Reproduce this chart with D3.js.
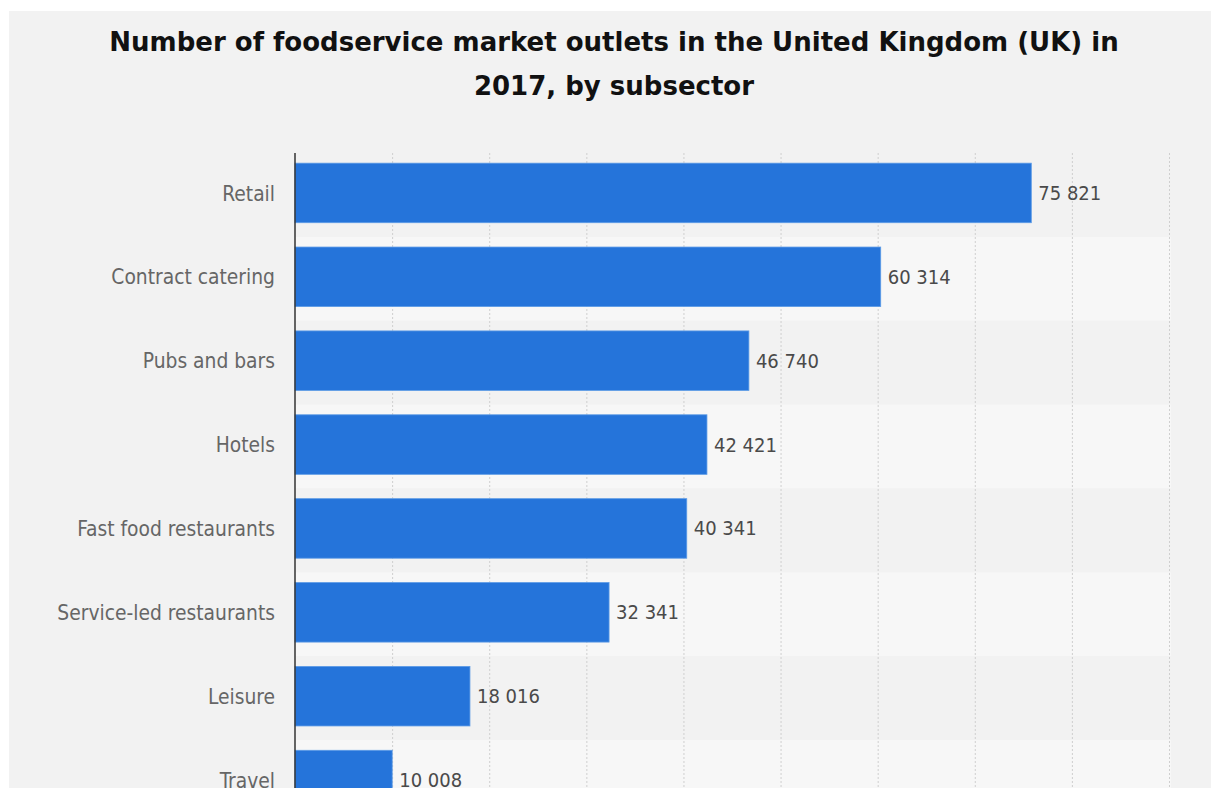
<!DOCTYPE html>
<html>
<head>
<meta charset="utf-8">
<script src="https://cdn.jsdelivr.net/npm/d3@7"></script>
<style>
  html, body { margin: 0; padding: 0; background: #ffffff; }
  svg { display: block; }
</style>
</head>
<body>
<svg id="chart" width="1211" height="788"></svg>
<script>
// Outlets per foodservice subsector, UK 2017
const categories = [
  "Retail", "Contract catering", "Pubs and bars", "Hotels",
  "Fast food restaurants", "Service-led restaurants", "Leisure", "Travel"
];
const outlets = [75821, 60314, 46740, 42421, 40341, 32341, 18016, 10008];
const xTicks = [0, 10000, 20000, 30000, 40000, 50000, 60000, 70000, 80000, 90000];
const titleLines = [
  "Number of foodservice market outlets in the United Kingdom (UK) in",
  "2017, by subsector"
];

const rows = categories.map((c, i) => ({ name: c, value: outlets[i] }));

const W = 1211, H = 788;
const svg = d3.select("#chart");
const condensed = "'DejaVu Sans Condensed', 'DejaVu Sans', sans-serif";

// panel
svg.append("rect").attr("x", 9).attr("y", 11).attr("width", W - 9).attr("height", H - 11)
  .attr("fill", "#f2f2f2");

// title
const title = svg.append("text")
  .attr("x", 614).attr("y", 51)
  .attr("text-anchor", "middle")
  .style("font-family", "'DejaVu Sans', sans-serif")
  .style("font-weight", "bold")
  .style("font-size", "26px")
  .attr("fill", "#111");
titleLines.forEach((t, i) => {
  title.append("tspan").attr("x", 614).attr("dy", i === 0 ? 0 : 44).text(t);
});

const plot = { left: 295, right: 1169, top: 153, bottom: 824 };

const x = d3.scaleLinear().domain([0, 90000]).range([plot.left, plot.right]);
const y = d3.scaleBand().domain(categories)
  .range([plot.top, plot.bottom])
  .paddingInner(0.29).paddingOuter(0.145);

const step = y.step();
const g = svg.append("g");

// alternating row bands
g.selectAll("rect.band").data(rows).join("rect")
  .attr("class", "band")
  .attr("x", plot.left)
  .attr("y", (d, i) => plot.top + i * step)
  .attr("width", plot.right + 2 - plot.left)
  .attr("height", step)
  .attr("fill", (d, i) => i % 2 ? "#f7f7f7" : "#f2f2f2");

// vertical gridlines
g.append("g")
  .attr("transform", `translate(0,${plot.top})`)
  .call(d3.axisTop(x).tickValues(xTicks.slice(1)).tickSize(-(plot.bottom - plot.top)).tickFormat(""))
  .call(a => a.select(".domain").remove())
  .call(a => a.selectAll(".tick line")
    .attr("stroke", "#cfcfcf").attr("stroke-width", 1).attr("stroke-dasharray", "2,2"));

// bars
g.selectAll("rect.bar").data(rows).join("rect")
  .attr("class", "bar")
  .attr("x", x(0))
  .attr("y", d => y(d.name) - 2)
  .attr("width", d => x(d.value) - x(0))
  .attr("height", y.bandwidth())
  .attr("fill", "#2574da")
  .attr("stroke", "#5d9be6")
  .attr("stroke-width", 0.8);

// value labels
const fmt = v => d3.format(",")(v).replace(/,/g, " ");
g.selectAll("text.val").data(rows).join("text")
  .attr("class", "val")
  .attr("x", d => x(d.value) + 7)
  .attr("y", d => y(d.name) - 2 + y.bandwidth() / 2)
  .attr("dy", "0.35em")
  .style("font-family", condensed)
  .style("font-size", "20px")
  .attr("fill", "#4a4a4a")
  .text(d => fmt(d.value));

// category axis
const yAxis = g.append("g")
  .attr("transform", `translate(${plot.left},0)`)
  .call(d3.axisLeft(y).tickSize(0).tickPadding(20));
yAxis.select(".domain").remove();
yAxis.selectAll(".tick").attr("transform", d => `translate(0,${y(d) - 1 + y.bandwidth() / 2})`);
yAxis.selectAll("text")
  .style("font-family", condensed)
  .style("font-size", "20.8px")
  .attr("fill", "#666");

// axis line
g.append("line")
  .attr("x1", plot.left).attr("x2", plot.left)
  .attr("y1", plot.top).attr("y2", plot.bottom)
  .attr("stroke", "#333").attr("stroke-width", 1.5);
</script>
</body>
</html>
